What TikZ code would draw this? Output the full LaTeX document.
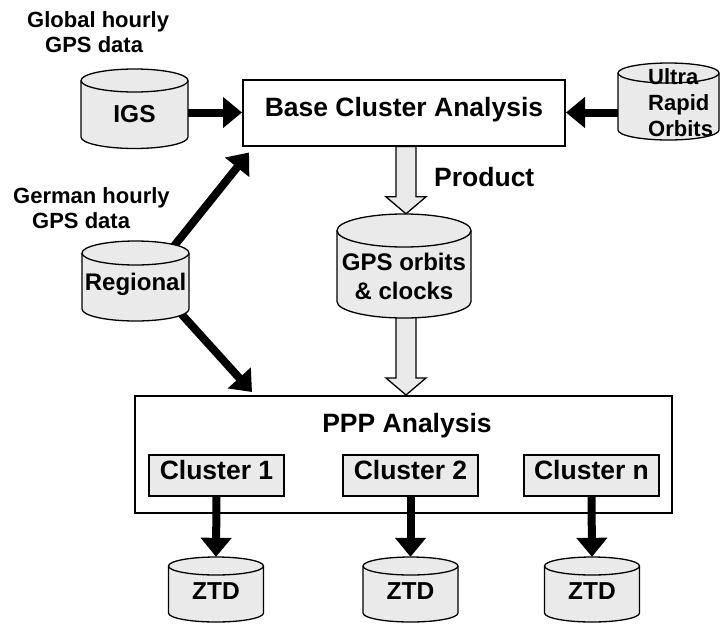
\documentclass[tikz,border=0pt]{standalone}
\usepackage{fontspec}
\setmainfont{Liberation Sans}
\usetikzlibrary{arrows.meta,calc,backgrounds}
\definecolor{shade}{HTML}{EAEAEA}

% database drum: name, centre x, top ellipse y, bottom ellipse y, x radius, y radius
\newcommand\dbdrum[6]{%
  \path[drumline] (#2-#5,#3) -- (#2-#5,#4)
    arc[start angle=180,end angle=360,x radius=#5pt,y radius=#6pt]
    -- (#2+#5,#3)
    arc[start angle=0,end angle=180,x radius=#5pt,y radius=#6pt] -- cycle;
  \draw[line width=1.3pt] (#2-#5,#3)
    arc[start angle=180,end angle=360,x radius=#5pt,y radius=#6pt];
  \node[inner sep=0pt, minimum width=2*#5pt, minimum height=#4pt-#3pt+2*#6pt]
    (#1) at (#2,{(#3+#4)/2}) {};
}

\tikzset{
  lbl/.style={font=\fontsize{22}{25}\selectfont\bfseries, align=left, inner sep=0pt, anchor=west},
  boxtext/.style={font=\fontsize{26.5}{30}\selectfont\bfseries, text height=0.72em, text depth=0pt, inner sep=0pt},
  procbox/.style={draw, line width=2pt, boxtext},
  clusterbox/.style={draw, line width=1.5pt, fill=shade, boxtext,
    minimum width=135pt, minimum height=41pt},
  drumline/.style={draw, line width=1.3pt, fill=shade},
  drumtext/.style={font=\fontsize{24.5}{29}\selectfont\bfseries, text height=0.72em, text depth=0pt, inner sep=0pt},
  drumtext2/.style={font=\fontsize{24}{29}\selectfont\bfseries, align=center, inner sep=0pt},
  feed/.style={line width=8pt, -{Triangle[width=30pt,length=19pt]}},
  blockarrow/.style={draw, line width=1.3pt, fill=shade, line join=miter,
    to path={let \p1=(\tikztostart), \p2=(\tikztotarget) in
      (\x1-10pt,\y1) -- (\x1-10pt,\y2+17pt) -- (\x1-20pt,\y2+17pt) -- (\x1,\y2)
      -- (\x1+20pt,\y2+17pt) -- (\x1+10pt,\y2+17pt) -- (\x1+10pt,\y1) -- cycle}},
}

\begin{document}
\begin{tikzpicture}[x=1pt,y=-1pt]
\useasboundingbox (0,0) rectangle (722,624);

% input data sources
\node[lbl] (globaltxt) at (27,32.5) {Global hourly\\\hspace*{18pt}GPS data};
\dbdrum{igs}{134.5}{80.5}{137}{53.5}{11.5}
\node[drumtext] (igslbl) at (134.5,118.5) {IGS};

\node[lbl] (germantxt) at (13,208.5) {German hourly\\\hspace*{19pt}GPS data};
\dbdrum{regional}{135.5}{253}{309}{53.5}{12}
\node[drumtext, font=\fontsize{24}{29}\selectfont\bfseries] (regionallbl) at (135.5,287) {Regional};

\dbdrum{ultra}{668.5}{73}{130}{50.5}{10}
\node[lbl, font=\fontsize{22}{26}\selectfont\bfseries]
  (ultralbl) at (648,103) {Ultra\\Rapid\\Orbits};

% base cluster analysis and its product
\node[procbox, minimum width=322pt, minimum height=66pt] (base) at (404,112.5) {Base Cluster Analysis};
\node[boxtext, anchor=west] (prod) at (434,182.5) {Product};

\dbdrum{gps}{404}{230.5}{301.5}{67}{16.5}
\node[drumtext2] (gpslbl) at (404,276.5) {GPS orbits\\\& clocks};

% PPP analysis with its clusters
\node[draw, line width=2pt, minimum width=537pt, minimum height=117pt, inner sep=0pt]
  (ppp) at (403.5,454.5) {};
\node[boxtext] (ppptitle) at (407,429) {PPP Analysis};
\node[clusterbox] (c1) at (216.5,475.5) {Cluster 1};
\node[clusterbox] (c2) at (410.5,475.5) {Cluster 2};
\node[clusterbox] (cn) at (591.5,475.5) {Cluster n};

% zenith total delay outputs
\dbdrum{z1}{216}{566}{613}{47.5}{9}
\node[drumtext] (z1lbl) at (216,596) {ZTD};
\dbdrum{z2}{410.5}{566}{613}{47.5}{9}
\node[drumtext] (z2lbl) at (410.5,596) {ZTD};
\dbdrum{zn}{592}{566}{613}{47.5}{9}
\node[drumtext] (znlbl) at (592,596) {ZTD};

% connectors, kept beneath the shapes
\coordinate (pa) at ([xshift=2pt]base.south);
\coordinate (pb) at ([shift={(2,-6)}]gps.south);
\coordinate (ra) at ([shift={(-19,10)}]regional.north east);
\coordinate (rb) at ([shift={(7,6)}]base.south west);
\coordinate (rc) at ([shift={(-14,-14)}]regional.south east);
\coordinate (rd) at ([shift={(118,-3)}]ppp.north west);

\begin{pgfonlayer}{background}
  \fill[white] (0,0) rectangle (722,624);
  \draw[feed] (igs.east |- base.west) -- (base.west);
  \draw[feed] (ultra.west |- base.east) -- (base.east);
  \draw[feed] (ra) -- (rb);
  \draw[feed] (rc) -- (rd);
  \path[blockarrow] (pa) to (gps.north);
  \path[blockarrow] (pb) to (ppp.north);
  \draw[feed] (c1.south) -- (z1.north);
  \draw[feed] (c2.south) -- (z2.north);
  \draw[feed] (cn.south) -- (zn.north);
\end{pgfonlayer}
\end{tikzpicture}
\end{document}
